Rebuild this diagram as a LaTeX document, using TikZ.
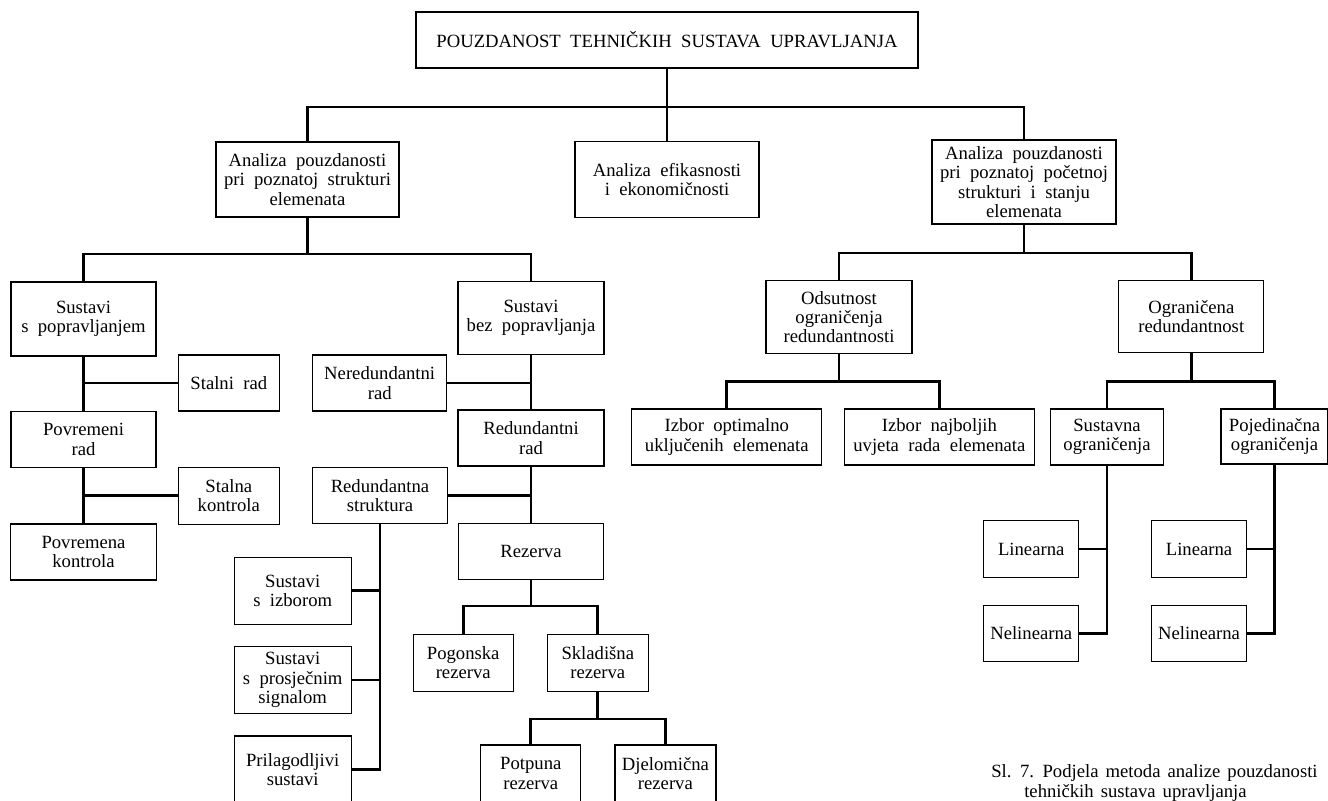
\documentclass[tikz,border=0pt]{standalone}
\usepackage{fontspec}
\setmainfont{Liberation Serif}[WordSpace=2.0]
\newfontfamily\captfont{Liberation Serif}[WordSpace=1.5]
\usepackage{xcolor}
\usetikzlibrary{calc}

\tikzset{
  box/.style={draw, line width=1pt, align=center, inner sep=2pt},
  sz/.style 2 args={minimum width=#1*0.75pt, minimum height=#2*0.75pt},
  link/.style={line width=2.2pt},
  capt/.style={anchor=west, inner sep=0pt, font=\captfont\fontsize{14}{14.5}\selectfont}
}

\begin{document}
\begin{tikzpicture}[x=0.75pt, y=-0.75pt, font=\fontsize{14}{14.5}\selectfont] % 1 px = 0.75pt, y 向下

    % 0. 画布范围
    \useasboundingbox (0,0) rectangle (1328,800);
    \clip (0,0) rectangle (1328,800);

    % 1. 顶层与第一层
    \node[box, sz={502}{56}] (top) at (667,40) {POUZDANOST TEHNIČKIH SUSTAVA UPRAVLJANJA};
    \node[box, sz={183}{75}] (anaStr) at (307.5,179.5) {Analiza pouzdanosti\\pri poznatoj strukturi\\elemenata};
    \node[box, sz={184}{76}] (anaEko) at (667,179.5) {Analiza efikasnosti\\i ekonomičnosti};
    \node[box, sz={184}{84}] (anaSta) at (1024,182) {Analiza pouzdanosti\\pri poznatoj početnoj\\strukturi i stanju\\elemenata};

    % 2. 左支: 已知结构
    \node[box, sz={145}{74}] (sPop) at (83.5,319) {Sustavi\\s popravljanjem};
    \node[box, sz={146}{73}] (sBez) at (531,318) {Sustavi\\bez popravljanja};
    \node[box, sz={101}{56}] (stRad) at (228.8,383) {Stalni rad};
    \node[box, sz={145}{56}] (povRad) at (83.5,439.3) {Povremeni\\rad};
    \node[box, sz={101}{57}] (stKon) at (228.8,495.7) {Stalna\\kontrola};
    \node[box, sz={146}{56}] (povKon) at (83.5,552) {Povremena\\kontrola};
    \node[box, sz={134}{56}] (nerRad) at (379.7,383) {Neredundantni\\rad};
    \node[box, sz={146}{56}] (redRad) at (531,438) {Redundantni\\rad};
    \node[box, sz={135}{56}] (redStr) at (380,495.3) {Redundantna\\struktura};
    \node[box, sz={145}{56}] (rez) at (531,551.3) {Rezerva};
    \node[box, sz={117}{67}] (sIzb) at (292.7,590.8) {Sustavi\\s izborom};
    \node[box, sz={117}{67}] (sPro) at (292.7,680) {Sustavi\\s prosječnim\\signalom};
    \node[box, sz={117}{67}] (prSus) at (292.7,769.5) {Prilagodljivi\\sustavi};
    \node[box, sz={100}{57}] (pogRez) at (463.2,662.7) {Pogonska\\rezerva};
    \node[box, sz={101}{57}] (skRez) at (597.8,662.7) {Skladišna\\rezerva};
    \node[box, sz={100}{57}] (potRez) at (530.8,773.5) {Potpuna\\rezerva};
    \node[box, sz={101}{57}] (djRez) at (665.4,773.5) {Djelomična\\rezerva};

    % 3. 右支: 已知初始结构与状态
    \node[box, sz={146}{73}] (odsOgr) at (839,317) {Odsutnost\\ograničenja\\redundantnosti};
    \node[box, sz={145}{72}] (ogrRed) at (1191.3,316.5) {Ograničena\\redundantnost};
    \node[box, sz={190}{56}] (izOpt) at (726.8,437) {Izbor optimalno\\uključenih elemenata};
    \node[box, sz={190}{56}] (izNaj) at (939.4,437) {Izbor najboljih\\uvjeta rada elemenata};
    \node[box, sz={113}{56}] (susOgr) at (1107,437) {Sustavna\\ograničenja};
    \node[box, sz={107}{55}] (pojOgr) at (1274.5,436.5) {Pojedinačna\\ograničenja};
    \node[box, sz={95}{57}] (linA) at (1031.2,549) {Linearna};
    \node[box, sz={95}{56}] (nelA) at (1031.2,633.3) {Nelinearna};
    \node[box, sz={95}{57}] (linB) at (1199,549) {Linearna};
    \node[box, sz={95}{56}] (nelB) at (1199,633.3) {Nelinearna};

    % 4. 连接线
    \coordinate (b0) at (667,107);
    \draw[link] (top) -- (b0) -- (anaEko);
    \draw[link] (anaStr) |- (b0) -| (anaSta);

    \coordinate (b1) at (307.5,254);
    \draw[link] (anaStr) -- (b1);
    \draw[link] (sPop) |- (b1) -| (sBez);
    \draw[link] (sPop) -- (povRad) -- (povKon);
    \draw[link] (stRad) -- (stRad -| sPop);
    \draw[link] (stKon) -- (stKon -| sPop);
    \draw[link] (sBez) -- (redRad) -- (rez);
    \draw[link] (nerRad) -- (nerRad -| sBez);
    \draw[link] (redStr) -- (redStr -| sBez);
    \draw[link] (redStr) -- (redStr |- prSus) -- (prSus);
    \draw[link] (sIzb) -- (sIzb -| redStr);
    \draw[link] (sPro) -- (sPro -| redStr);

    \coordinate (b2) at (531,606);
    \draw[link] (rez) -- (b2);
    \draw[link] (pogRez) |- (b2) -| (skRez);
    \coordinate (b3) at (597.8,719);
    \draw[link] (skRez) -- (b3);
    \draw[link] (potRez) |- (b3) -| (djRez);

    \coordinate (b4) at (1024,253);
    \draw[link] (anaSta) -- (b4);
    \draw[link] (odsOgr) |- (b4) -| (ogrRed);
    \coordinate (b5) at (839,381.7);
    \draw[link] (odsOgr) -- (b5);
    \draw[link] (izOpt) |- (b5) -| (izNaj);
    \coordinate (b6) at (1191.3,381.7);
    \draw[link] (ogrRed) -- (b6);
    \draw[link] (susOgr) |- (b6) -| (pojOgr);
    \draw[link] (susOgr) -- (susOgr |- nelA) -- (nelA);
    \draw[link] (linA) -- (linA -| susOgr);
    \draw[link] (pojOgr) -- (pojOgr |- nelB) -- (nelB);
    \draw[link] (linB) -- (linB -| pojOgr);

    % 5. 图注
    \node[capt] (cap1) at (991,773) {Sl. 7. Podjela metoda analize pouzdanosti};
    \node[capt] (cap2) at (1024,793) {tehničkih sustava upravljanja};

\end{tikzpicture}
\end{document}
